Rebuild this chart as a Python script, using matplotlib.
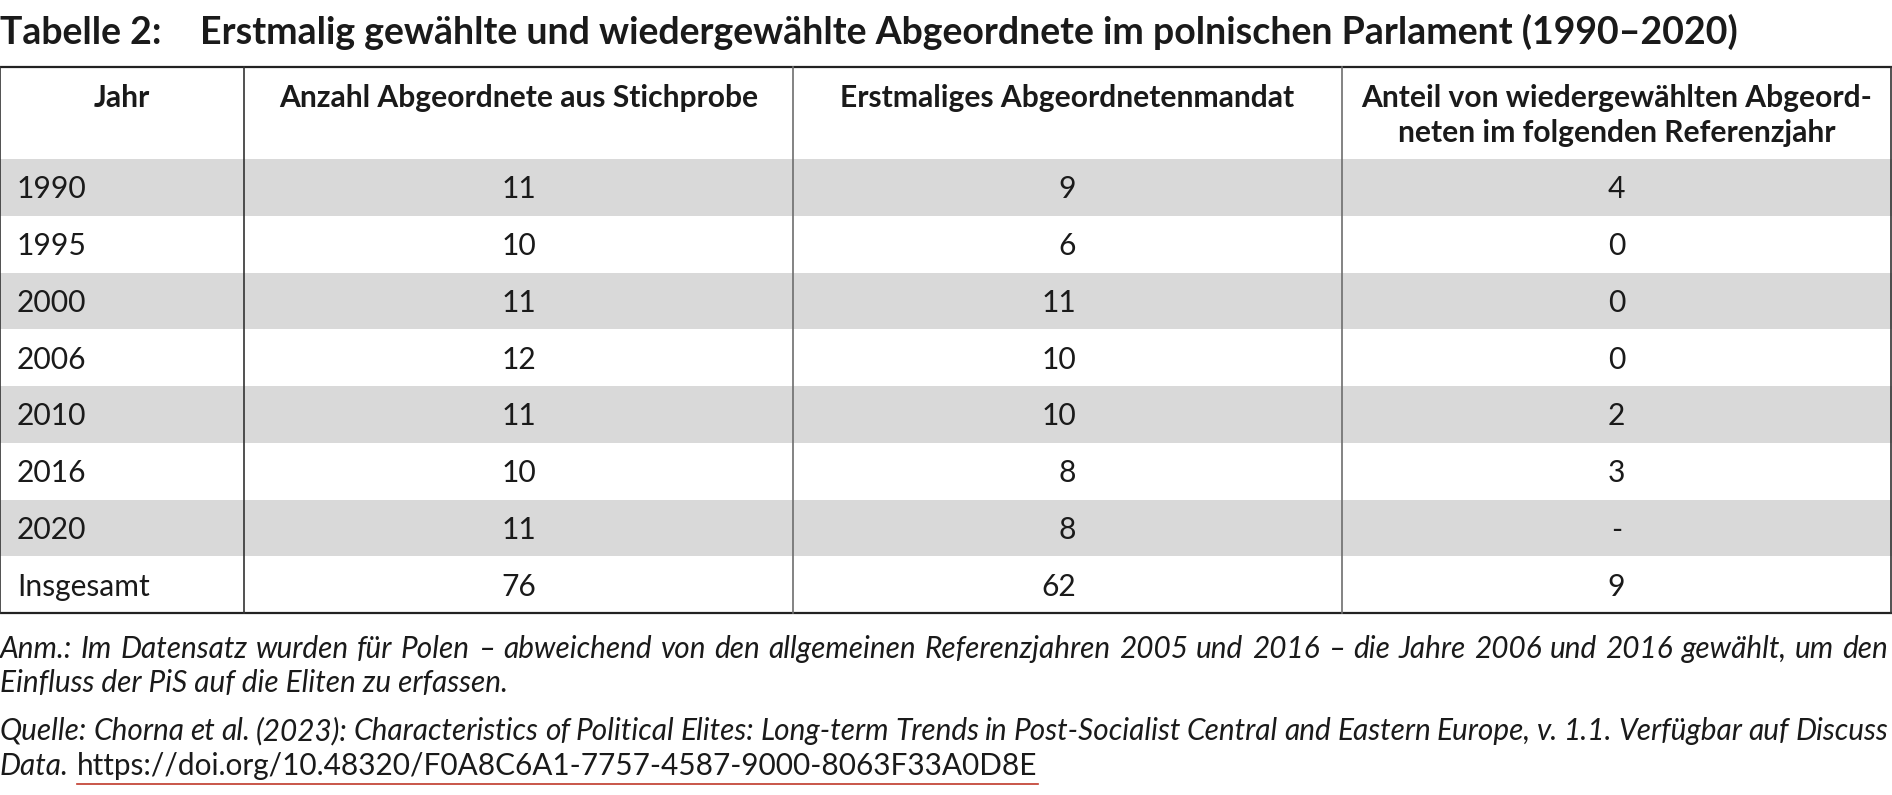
import matplotlib
matplotlib.use('Agg')
import matplotlib.pyplot as plt

plt.rcParams['font.family'] = ['Lato', 'DejaVu Sans']

# table content
title_label = 'Tabelle 2:'
title_text = 'Erstmalig gewählte und wiedergewählte Abgeordnete im polnischen Parlament (1990\u20132020)'
headers = ['Jahr', 'Anzahl Abgeordnete aus Stichprobe', 'Erstmaliges Abgeordnetenmandat',
           'Anteil von wiedergewählten Abgeord-\nneten im folgenden Referenzjahr']
years = ['1990', '1995', '2000', '2006', '2010', '2016', '2020', 'Insgesamt']
anzahl = ['11', '10', '11', '12', '11', '10', '11', '76']
erstmalig = ['9', '6', '11', '10', '10', '8', '8', '62']
wiedergewaehlt = ['4', '0', '0', '0', '2', '3', '-', '9']

note_line1 = ('Anm.: Im Datensatz wurden für Polen \u2013 abweichend von den allgemeinen Referenzjahren '
              '2005 und 2016 \u2013 die Jahre 2006 und 2016 gewählt, um den')
note_line2 = 'Einfluss der PiS auf die Eliten zu erfassen.'
src_line1 = ('Quelle: Chorna et al. (2023): Characteristics of Political Elites: Long-term Trends in '
             'Post-Socialist Central and Eastern Europe, v. 1.1. Verfügbar auf Discuss')
src_line2 = 'Data.'
src_url = 'https://doi.org/10.48320/F0A8C6A1-7757-4587-9000-8063F33A0D8E'

W, H = 1892, 795
fig = plt.figure(figsize=(W / 100, H / 100), dpi=100)
ax = fig.add_axes([0, 0, 1, 1])
ax.set_xlim(0, W)
ax.set_ylim(H, 0)
ax.axis('off')

txt = '#1a1a1a'
fs = 21.6

# title
ax.text(0, 44, title_label, fontsize=27, fontweight='bold', va='baseline', ha='left', color=txt)
ax.text(200, 44, title_text, fontsize=27, fontweight='bold', va='baseline', ha='left', color=txt)

# geometry
top, head_bot, bottom = 67, 159, 613
col_x = [0, 244, 793, 1342, 1891]
n = len(years)
row_h = (bottom - head_bot) / n

# stripes
for i in range(n):
    if i % 2 == 0 and i < n - 1:
        ax.add_patch(plt.Rectangle((0, head_bot + i * row_h), W, row_h, color='#d9d9d9', lw=0, zorder=0))

# grid lines
ax.plot([0, 1891], [top, top], color='#222222', lw=1.6)
ax.plot([0, 1891], [bottom, bottom], color='#222222', lw=1.6)
for k, x in enumerate(col_x):
    ax.plot([x, x], [top, bottom], color='#333333' if k in (0, 1, 4) else '#6e6e6e', lw=1.2)

# header
for j, h in enumerate(headers):
    cx = (col_x[j] + col_x[j + 1]) / 2
    for k, part in enumerate(h.split('\n')):
        ax.text(cx, 107 + k * 35, part, fontsize=fs, fontweight='bold', ha='center', va='baseline',
                color=txt)

# body
for i in range(n):
    by = head_bot + (i + 0.5) * row_h + 11
    ax.text(17, by, years[i], fontsize=fs, ha='left', va='baseline', color=txt)
    ax.text((col_x[1] + col_x[2]) / 2, by, anzahl[i], fontsize=fs, ha='center', va='baseline', color=txt)
    ax.text(1076, by, erstmalig[i], fontsize=fs, ha='right', va='baseline', color=txt)
    ax.text((col_x[3] + col_x[4]) / 2, by, wiedergewaehlt[i], fontsize=fs, ha='center', va='baseline', color=txt)

fig.canvas.draw()
renderer = fig.canvas.get_renderer()


def justify(line, y, right, size):
    words = line.split(' ')
    objs = [ax.text(0, y, w, fontsize=size, style='italic', va='baseline', ha='left', color=txt) for w in words]
    widths = [o.get_window_extent(renderer).width for o in objs]
    gap = max((right - sum(widths)) / (len(words) - 1), 3)
    x = 0
    for o, w in zip(objs, widths):
        o.set_x(x)
        x += w + gap


fn = 21.4
justify(note_line1, 658, 1888, fn)
ax.text(0, 692, note_line2, fontsize=fn, style='italic', va='baseline', ha='left', color=txt)
justify(src_line1, 740, 1888, fn)
d = ax.text(0, 775, src_line2, fontsize=fn, style='italic', va='baseline', ha='left', color=txt)
fig.canvas.draw()
dx = d.get_window_extent(renderer).x1
u = ax.text(dx + 8, 775, src_url, fontsize=fn, va='baseline', ha='left', color=txt)
fig.canvas.draw()
bb = u.get_window_extent(renderer)
ax.plot([bb.x0, bb.x1], [784, 784], color='#c0392b', lw=1.2)

fig.savefig('out.png', dpi=100)
